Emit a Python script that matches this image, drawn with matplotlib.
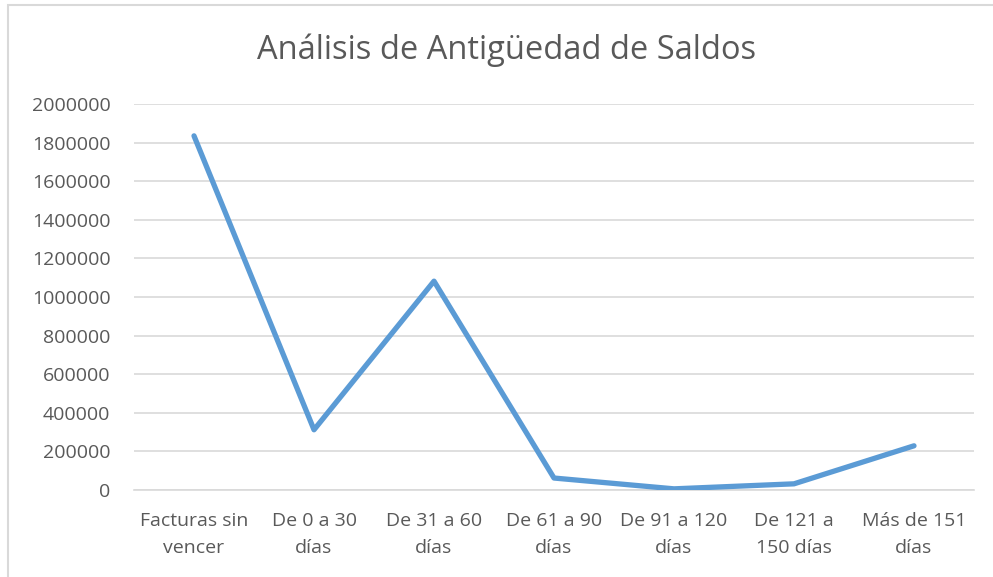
import matplotlib
matplotlib.use("Agg")
import matplotlib.pyplot as plt
from matplotlib.patches import Rectangle

categories = ["Facturas sin\nvencer", "De 0 a 30\ndías", "De 31 a 60\ndías",
              "De 61 a 90\ndías", "De 91 a 120\ndías", "De 121 a\n150 días",
              "Más de 151\ndías"]
values = [1835000, 312000, 1082000, 62000, 6000, 32000, 229000]
yticks = list(range(0, 2000001, 200000))
title = "Análisis de Antigüedad de Saldos"

plt.rcParams['font.family'] = ['Open Sans', 'DejaVu Sans']

W, H = 993, 577
fig = plt.figure(figsize=(W / 100, H / 100), dpi=100)
fig.patch.set_facecolor('white')

# outer chart border
fig.patches.append(Rectangle((8 / W, -0.05), 1.1, 1 - 5 / H + 0.05,
                             transform=fig.transFigure, fill=False,
                             edgecolor='#D9D9D9', linewidth=1.5))

left, right, top, bottom = 134, 974, 104, 490
ax = fig.add_axes([left / W, 1 - bottom / H, (right - left) / W, (bottom - top) / H])

x = list(range(len(categories)))
ax.plot(x, values, color='#5B9BD5', linewidth=3.8, solid_capstyle='round',
        solid_joinstyle='round', zorder=3)

ax.set_xlim(-0.5, len(categories) - 0.5)
ax.set_ylim(0, 2000000)
ax.set_yticks(yticks)
ax.set_yticklabels([str(v) for v in yticks])
ax.set_xticks(x)
ax.set_xticklabels(categories, linespacing=1.65)

ax.grid(axis='y', color='#D9D9D9', linewidth=1.2)
ax.set_axisbelow(True)
for s in ['top', 'right', 'left']:
    ax.spines[s].set_visible(False)
ax.spines['bottom'].set_color('#D9D9D9')
ax.spines['bottom'].set_linewidth(1.2)
ax.tick_params(axis='both', length=0, colors='#595959', labelsize=14)
ax.tick_params(axis='y', pad=17)
ax.tick_params(axis='x', pad=16)

fig.text(507 / W, 1 - 50 / H, title, ha='center', va='center',
         fontsize=23.5, color='#595959')

fig.savefig('out.png', dpi=100, facecolor='white')
